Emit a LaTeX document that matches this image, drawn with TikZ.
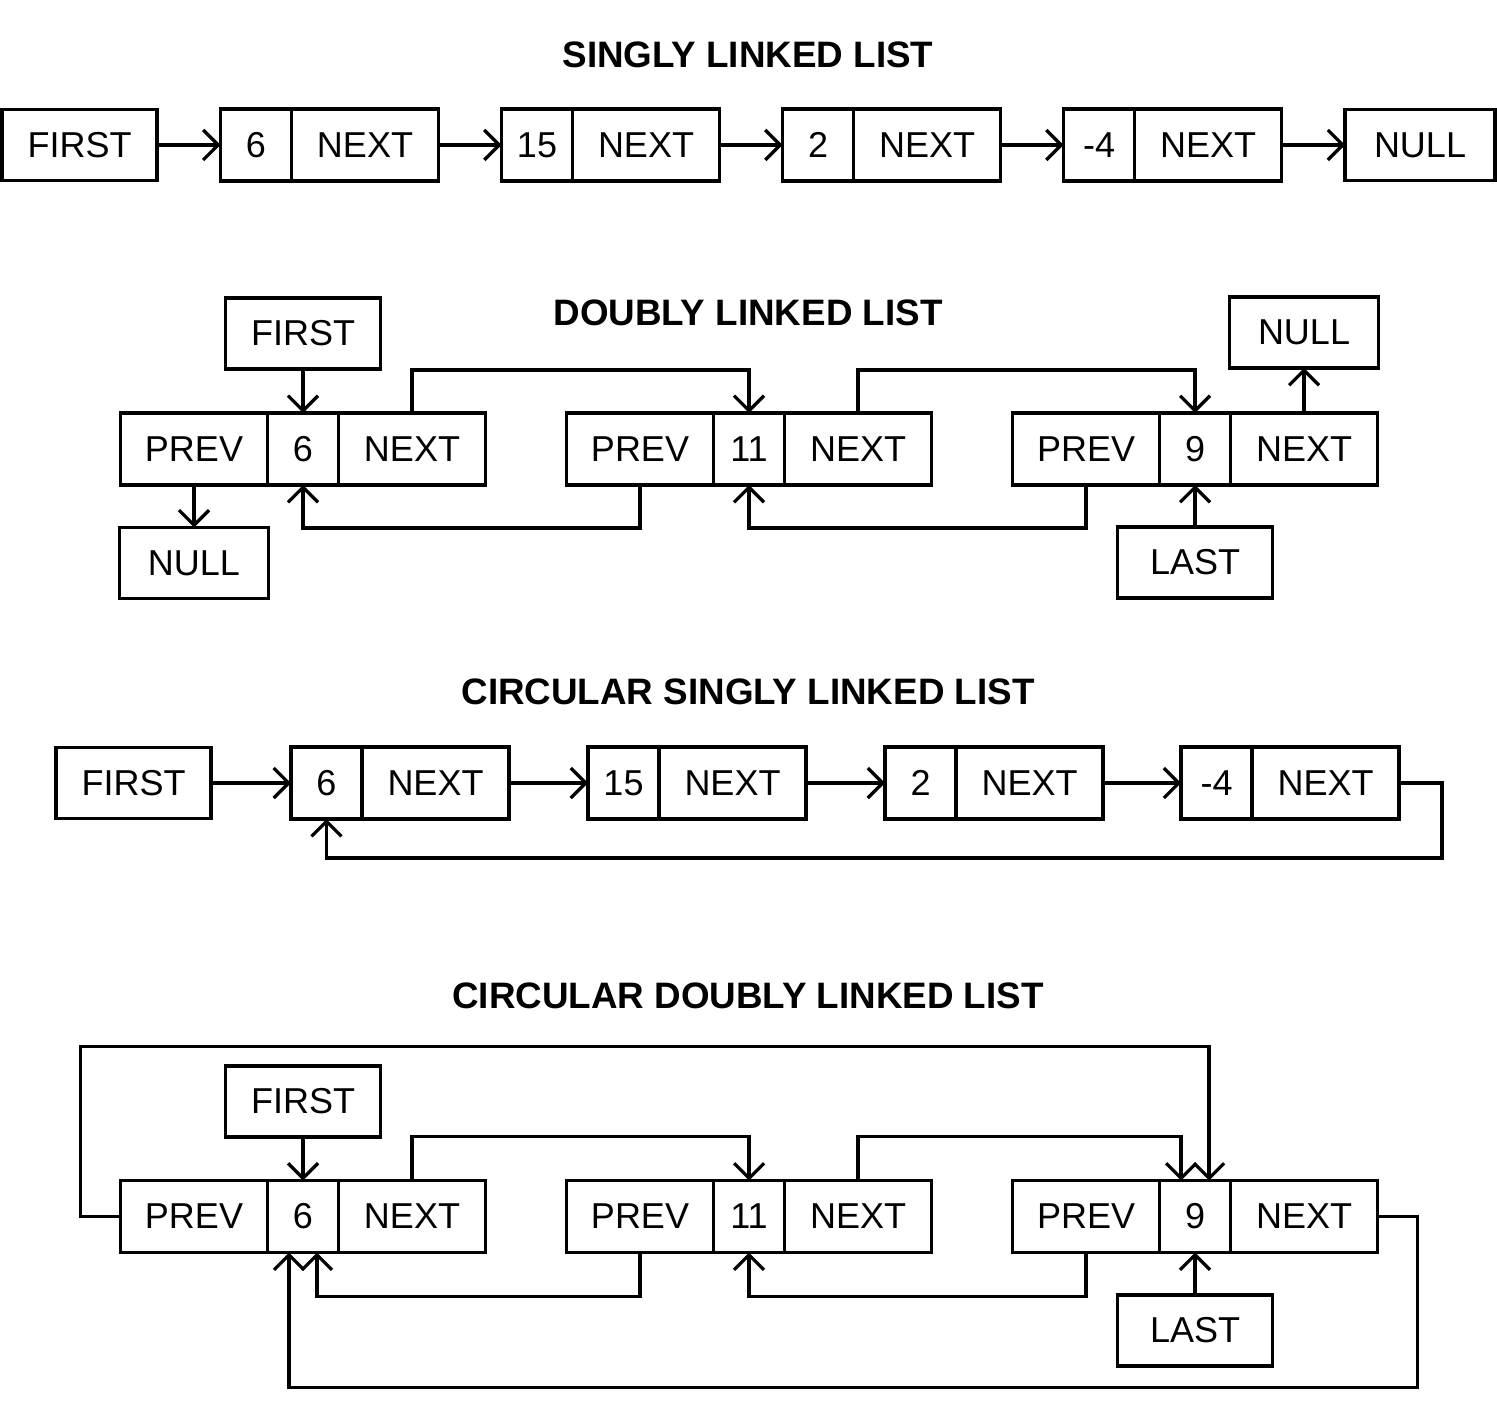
\documentclass[tikz,border=0pt]{standalone}
\usepackage{fontspec}
\setmainfont{Liberation Sans}
\usepackage{tikz}
\usetikzlibrary{calc}
\usetikzlibrary{arrows.meta}
\usetikzlibrary{positioning}
\tikzset{cell/.style={draw,line width=1.6pt,minimum height=36pt,inner sep=0pt,outer sep=0pt,font=\fontsize{18}{20}\selectfont}}
\tikzset{val/.style={cell,minimum width=35.5pt}}
\tikzset{ptr/.style={cell,minimum width=73.5pt}}
\tikzset{lbl/.style={cell,minimum width=77.5pt,minimum height=35.5pt}}
\tikzset{link/.style={line width=1.6pt,-{Straight Barb[length=7.5pt,width=15pt]}}}
\tikzset{title/.style={font=\fontsize{18.4}{22}\selectfont\bfseries}}

\begin{document}
\begin{tikzpicture}[x=0.5pt,y=-0.5pt]
\useasboundingbox (0,0) rectangle (1497,1427);

%% singly linked list
\node[title](t1) at (748, 55){SINGLY LINKED LIST};
\node[lbl](sfirst) at (79.5, 145){FIRST};
\foreach \v/\x [count=\i] in {6/256, 15/537, 2/818, -4/1099}{
\node[val](sv\i) at (\x, 145){\v};
\node[ptr,right=0pt of sv\i](sn\i){NEXT};
}
\node[lbl,minimum width=75pt](snull) at (1420, 145){NULL};
\draw[link] (sfirst.east)--(sv1.west);
\foreach \i/\j in {1/2, 2/3, 3/4}{
\draw[link] (sn\i.east)--(sv\j.west);
}
\draw[link] (sn4.east)--(snull.west);

%% doubly linked list
\node[title](t2) at (748, 313){DOUBLY LINKED LIST};
\foreach \v [count=\i] in {6, 11, 9}{
\node[val](dv\i) at (303+446*\i-446, 449){\v};
\node[ptr,left=0pt of dv\i](dp\i){PREV};
\node[ptr,right=0pt of dv\i](dn\i){NEXT};
}
\node[lbl](dfirst) at (303, 333.5){FIRST};
\node[lbl,minimum width=74.5pt](dnullA) at (194, 563){NULL};
\node[lbl,minimum width=74.5pt](dnullB) at (1304, 332.5){NULL};
\node[lbl](dlast) at (1195, 562.5){LAST};
\draw[link] (dfirst.south)--(dv1.north);
\draw[link] (dp1.south)--(dnullA.north);
\draw[link] (dn3.north)--(dnullB.south);
\draw[link] (dlast.north)--(dv3.south);
\draw[link] (dn1.north)--++(0,-43)-|(dv2.north);
\draw[link] (dn2.north)--++(0,-43)-|(dv3.north);
\draw[link] (dp2.south)--++(0,43)-|(dv1.south);
\draw[link] (dp3.south)--++(0,43)-|(dv2.south);

%% circular singly linked list
\node[title](t3) at (748, 692){CIRCULAR SINGLY LINKED LIST};
\node[lbl](cfirst) at (133.5, 783){FIRST};
\foreach \v/\x [count=\i] in {6/326.5, 15/623.5, 2/920.5, -4/1216.5}{
\node[val](cv\i) at (\x, 783){\v};
\node[ptr,right=0pt of cv\i](cn\i){NEXT};
}
\draw[link] (cfirst.east)--(cv1.west);
\foreach \i/\j in {1/2, 2/3, 3/4}{
\draw[link] (cn\i.east)--(cv\j.west);
}
\draw[link] (cn4.east)--++(43,0)--++(0,75)-|(cv1.south);

%% circular doubly linked list
\node[title](t4) at (748, 996){CIRCULAR DOUBLY LINKED LIST};
\foreach \v [count=\i] in {6, 11, 9}{
\node[val](ev\i) at (303+446*\i-446, 1216.5){\v};
\node[ptr,left=0pt of ev\i](ep\i){PREV};
\node[ptr,right=0pt of ev\i](en\i){NEXT};
}
\node[lbl](efirst) at (303, 1101.5){FIRST};
\node[lbl](elast) at (1195, 1330.5){LAST};
\draw[link] (efirst.south)--(ev1.north);
\draw[link] (elast.north)--(ev3.south);
\draw[link] (en1.north)--++(0,-44)-|(ev2.north);
\draw[link] (en2.north)--++(0,-44)-|([xshift=-7pt]ev3.north);
\draw[link] (ep2.south)--++(0,44)-|([xshift=7pt]ev1.south);
\draw[link] (ep3.south)--++(0,44)-|(ev2.south);
\draw[link] (ep1.west)--++(-40,0)--++(0,-170)-|([xshift=7pt]ev3.north);
\draw[link] (en3.east)--++(40,0)--++(0,171)-|([xshift=-7pt]ev1.south);

\end{tikzpicture}
\end{document}
